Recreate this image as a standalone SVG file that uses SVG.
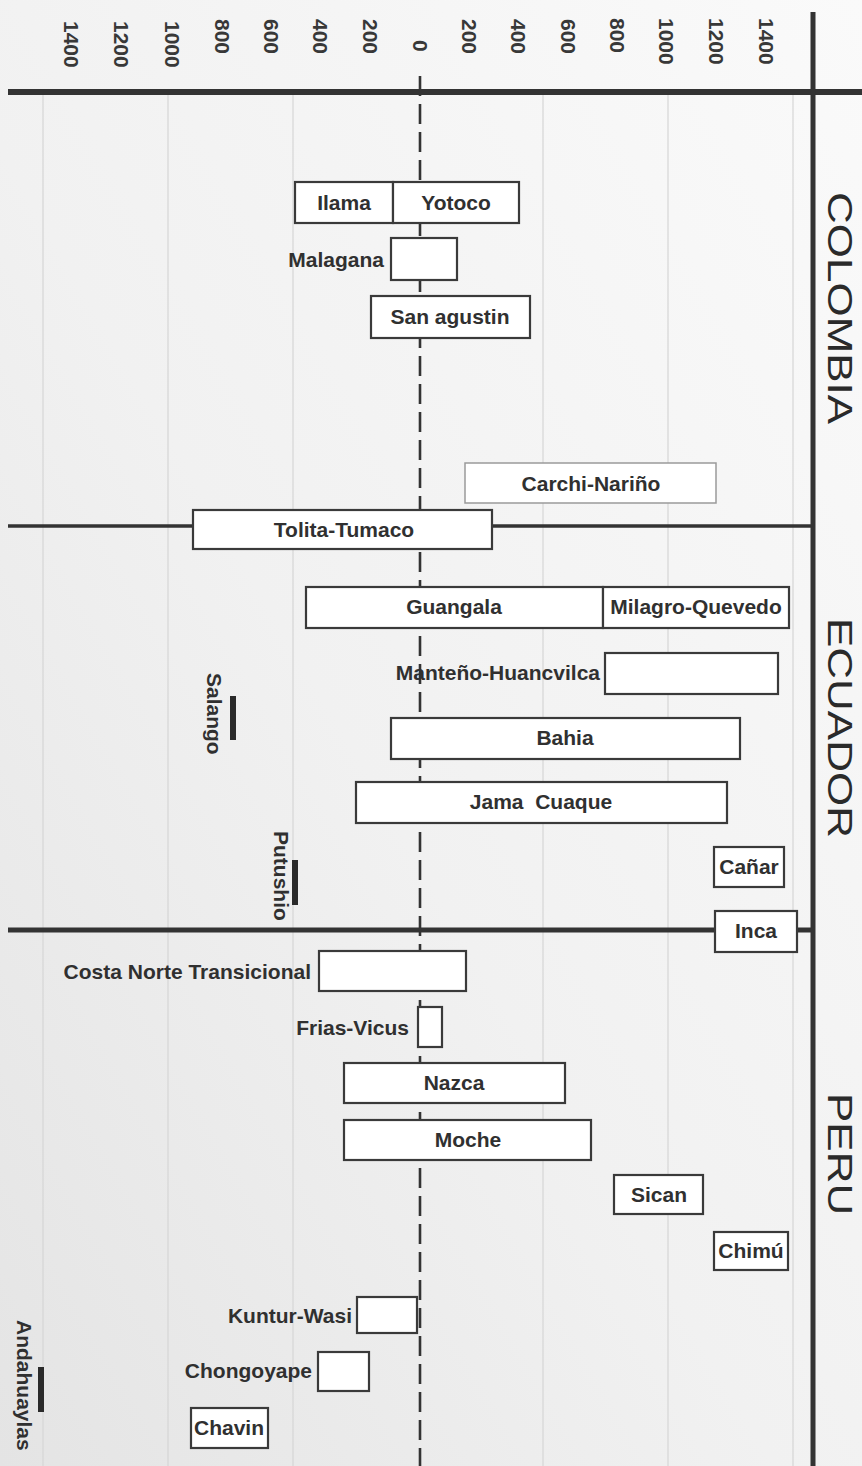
<svg xmlns="http://www.w3.org/2000/svg" width="862" height="1466" viewBox="0 0 862 1466">
  <defs>
    <linearGradient id="paper" x1="1" y1="0" x2="0" y2="1">
      <stop offset="0" stop-color="#fafafa"/>
      <stop offset="0.55" stop-color="#f1f1f1"/>
      <stop offset="1" stop-color="#e4e4e4"/>
    </linearGradient>
    <style>
      .lbl { font-family: "Liberation Sans", Arial, sans-serif; font-weight: bold; font-size: 21px; fill: #303030; white-space: pre; }
      .mid { text-anchor: middle; }
      .end { text-anchor: end; }
      .axis { font-family: "Liberation Sans", Arial, sans-serif; font-weight: bold; font-size: 21px; fill: #383838; dominant-baseline: central; }
      .country { font-family: "Liberation Sans", Arial, sans-serif; font-size: 44px; fill: #2a2a2a; }
      .box { fill: #ffffff; stroke: #3a3a3a; stroke-width: 2.2; }
      .box-light { fill: #ffffff; stroke: #9a9a9a; stroke-width: 1.5; }
      .grid { stroke: #d6d6d6; stroke-width: 1.2; }
      .bar { stroke: #2a2a2a; stroke-width: 6; }
    </style>
  </defs>

  <!-- paper -->
  <rect x="0" y="0" width="862" height="1466" fill="url(#paper)"/>

  <!-- faint vertical grid, every 500 years -->
  <g id="grid">
    <line class="grid" x1="43" y1="93" x2="43" y2="1466"/>
    <line class="grid" x1="168" y1="93" x2="168" y2="1466"/>
    <line class="grid" x1="293" y1="93" x2="293" y2="1466"/>
    <line class="grid" x1="543" y1="93" x2="543" y2="1466"/>
    <line class="grid" x1="668" y1="93" x2="668" y2="1466"/>
    <line class="grid" x1="793" y1="93" x2="793" y2="1466"/>
  </g>

  <!-- year scale (rotated) -->
  <g id="scale">
    <text class="axis" transform="translate(71,21) rotate(90)">1400</text>
    <text class="axis" transform="translate(121,21) rotate(90)">1200</text>
    <text class="axis" transform="translate(172,21) rotate(90)">1000</text>
    <text class="axis" transform="translate(222,19) rotate(90)">800</text>
    <text class="axis" transform="translate(271,19) rotate(90)">600</text>
    <text class="axis" transform="translate(320,19) rotate(90)">400</text>
    <text class="axis" transform="translate(370,19) rotate(90)">200</text>
    <text class="axis" transform="translate(420,40) rotate(90)">0</text>
    <text class="axis" transform="translate(469,19) rotate(90)">200</text>
    <text class="axis" transform="translate(518,19) rotate(90)">400</text>
    <text class="axis" transform="translate(568,19) rotate(90)">600</text>
    <text class="axis" transform="translate(617,18) rotate(90)">800</text>
    <text class="axis" transform="translate(666,18) rotate(90)">1000</text>
    <text class="axis" transform="translate(716,18) rotate(90)">1200</text>
    <text class="axis" transform="translate(766,18) rotate(90)">1400</text>
  </g>

  <!-- frame: axis rule, country dividers and the year-zero line -->
  <g id="connectors">
    <line x1="420" y1="76" x2="420" y2="1466" stroke="#333" stroke-width="2.6" stroke-dasharray="20 8"/>
    <line x1="8" y1="92" x2="862" y2="92" stroke="#333" stroke-width="6"/>
    <line x1="8" y1="526" x2="813" y2="526" stroke="#333" stroke-width="3.5"/>
    <line x1="8" y1="930" x2="813" y2="930" stroke="#333" stroke-width="5"/>
    <line x1="813" y1="12" x2="813" y2="1466" stroke="#333" stroke-width="5"/>
  </g>

  <!-- countries (glyph height squeezed so the names fit the margin) -->
  <g id="countries">
    <text class="country" transform="translate(828,192) rotate(90) scale(1,0.8)">COLOMBIA</text>
    <text class="country" transform="translate(828,618) rotate(90) scale(1,0.8)">ECUADOR</text>
    <text class="country" transform="translate(828,1093) rotate(90) scale(1,0.8)">PERU</text>
  </g>

  <!-- Colombia -->
  <g id="ilama">
    <rect class="box" x="295" y="182" width="98" height="41"/>
    <text class="lbl mid" x="344" y="210">Ilama</text>
  </g>
  <g id="yotoco">
    <rect class="box" x="393" y="182" width="126" height="41"/>
    <text class="lbl mid" x="456" y="210">Yotoco</text>
  </g>
  <g id="malagana">
    <rect class="box" x="391" y="238" width="66" height="42"/>
    <text class="lbl end" x="384" y="267">Malagana</text>
  </g>
  <g id="san-agustin">
    <rect class="box" x="371" y="296" width="159" height="42"/>
    <text class="lbl mid" x="450" y="324">San agustin</text>
  </g>
  <g id="carchi-narino">
    <rect class="box-light" x="465" y="463" width="251" height="40"/>
    <text class="lbl mid" x="591" y="491">Carchi-Nariño</text>
  </g>

  <!-- Ecuador -->
  <g id="tolita-tumaco">
    <rect class="box" x="193" y="510" width="299" height="39"/>
    <text class="lbl mid" x="344" y="537">Tolita-Tumaco</text>
  </g>
  <g id="guangala">
    <rect class="box" x="306" y="587" width="297" height="41"/>
    <text class="lbl mid" x="454" y="614">Guangala</text>
  </g>
  <g id="milagro-quevedo">
    <rect class="box" x="603" y="587" width="186" height="41"/>
    <text class="lbl mid" x="696" y="614">Milagro-Quevedo</text>
  </g>
  <g id="manteno-huancvilca">
    <rect class="box" x="605" y="653" width="173" height="41"/>
    <text class="lbl end" x="600" y="680">Manteño-Huancvilca</text>
  </g>
  <g id="bahia">
    <rect class="box" x="391" y="718" width="349" height="41"/>
    <text class="lbl mid" x="565" y="745">Bahia</text>
  </g>
  <g id="jama-cuaque">
    <rect class="box" x="356" y="782" width="371" height="41"/>
    <text class="lbl mid" x="541" y="809">Jama  Cuaque</text>
  </g>
  <g id="canar">
    <rect class="box" x="714" y="847" width="70" height="40"/>
    <text class="lbl mid" x="749" y="874">Cañar</text>
  </g>
  <g id="inca">
    <rect class="box" x="715" y="911" width="82" height="41"/>
    <text class="lbl mid" x="756" y="938">Inca</text>
  </g>
  <g id="salango">
    <line class="bar" x1="233" y1="696" x2="233" y2="740"/>
    <text class="lbl" transform="translate(207,673) rotate(90)">Salango</text>
  </g>
  <g id="putushio">
    <line class="bar" x1="295" y1="860" x2="295" y2="905"/>
    <text class="lbl" transform="translate(274,831) rotate(90)">Putushio</text>
  </g>

  <!-- Peru -->
  <g id="costa-norte-transicional">
    <rect class="box" x="319" y="951" width="147" height="40"/>
    <text class="lbl end" x="311" y="979">Costa Norte Transicional</text>
  </g>
  <g id="frias-vicus">
    <rect class="box" x="418" y="1007" width="24" height="40"/>
    <text class="lbl end" x="409" y="1035">Frias-Vicus</text>
  </g>
  <g id="nazca">
    <rect class="box" x="344" y="1063" width="221" height="40"/>
    <text class="lbl mid" x="454" y="1090">Nazca</text>
  </g>
  <g id="moche">
    <rect class="box" x="344" y="1120" width="247" height="40"/>
    <text class="lbl mid" x="468" y="1147">Moche</text>
  </g>
  <g id="sican">
    <rect class="box" x="614" y="1175" width="89" height="39"/>
    <text class="lbl mid" x="659" y="1202">Sican</text>
  </g>
  <g id="chimu">
    <rect class="box" x="714" y="1232" width="74" height="38"/>
    <text class="lbl mid" x="751" y="1258">Chimú</text>
  </g>
  <g id="kuntur-wasi">
    <rect class="box" x="357" y="1297" width="60" height="36"/>
    <text class="lbl end" x="352" y="1323">Kuntur-Wasi</text>
  </g>
  <g id="chongoyape">
    <rect class="box" x="318" y="1352" width="51" height="39"/>
    <text class="lbl end" x="312" y="1378">Chongoyape</text>
  </g>
  <g id="chavin">
    <rect class="box" x="191" y="1408" width="77" height="40"/>
    <text class="lbl mid" x="229" y="1435">Chavin</text>
  </g>
  <g id="andahuaylas">
    <line class="bar" x1="41" y1="1367" x2="41" y2="1412"/>
    <text class="lbl" transform="translate(17,1320) rotate(90)">Andahuaylas</text>
  </g>
</svg>
